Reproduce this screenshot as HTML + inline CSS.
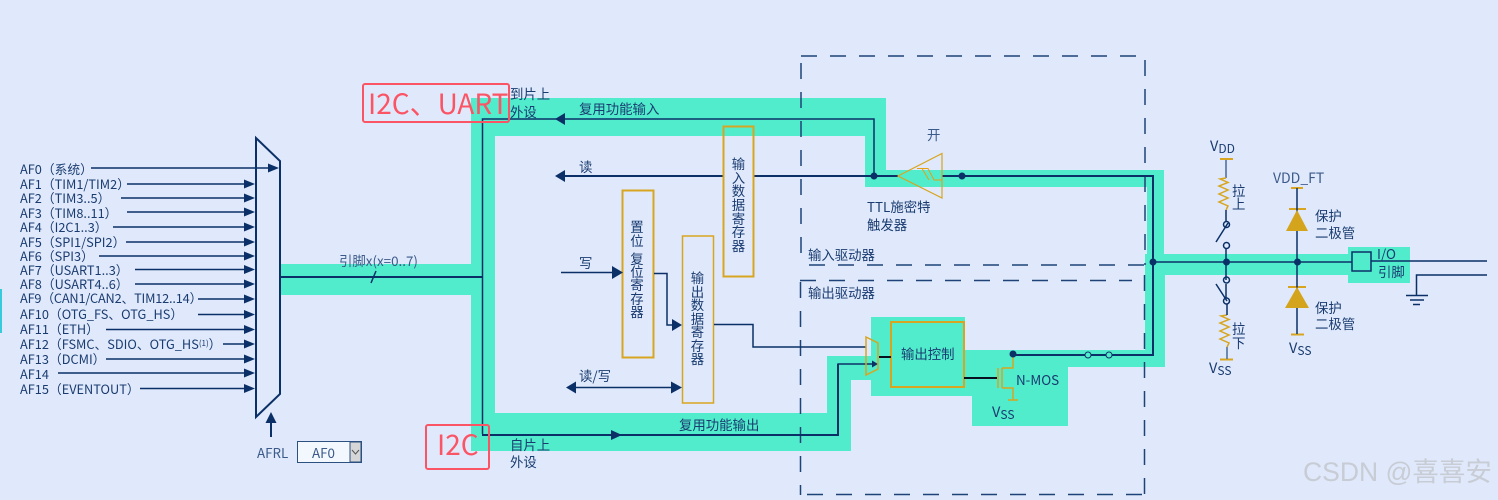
<!DOCTYPE html>
<html><head><meta charset="utf-8">
<style>
html,body{margin:0;padding:0;background:#dfe9fb;width:1498px;height:500px;overflow:hidden}
svg{display:block}
text{font-family:"Noto Sans CJK SC","Liberation Sans",sans-serif;font-size:13.4px;fill:#1a3b70;transform:translateY(.8px)}
text.af{font-size:12.75px}
text.v{font-size:14.5px}
.v tspan{font-size:12px}
.l{stroke:#0b3068;fill:none;stroke-width:1.5}
.t{stroke:#0b3068;fill:none;stroke-width:2}
.a{fill:#0b3068;stroke:none}
.g{stroke:#d8a520;fill:none;stroke-width:1.5}
.d{stroke:#1f4278;fill:none;stroke-width:1.5;stroke-dasharray:16 13}
.r{stroke:#d8a520;fill:none;stroke-width:2}
text.red{font-family:"Noto Sans CJK SC","Liberation Sans",sans-serif;fill:#fb5465;font-size:28px;font-weight:400;transform:none}
</style></head><body>
<svg width="1498" height="500" viewBox="0 0 1498 500" xmlns="http://www.w3.org/2000/svg">
<rect width="1498" height="500" fill="#dfe9fb"/>
<rect x="0" y="289" width="2" height="44" fill="#37c9dc"/>
<g fill="#50eccc">
<rect x="281" y="264" width="195" height="31"/>
<rect x="471" y="98" width="24" height="353"/>
<rect x="471" y="98" width="415" height="38"/>
<rect x="865" y="98" width="21" height="89"/>
<rect x="865" y="170" width="299" height="17"/>
<rect x="1147" y="170" width="17" height="197"/>
<rect x="1145" y="254" width="20" height="113"/>
<rect x="1145" y="254" width="210" height="21"/>
<rect x="1348" y="247" width="62" height="36"/>
<rect x="471" y="413" width="380" height="38"/>
<rect x="827" y="356" width="24" height="95"/>
<rect x="827" y="356" width="50" height="24"/>
<rect x="871" y="317" width="94" height="79"/>
<rect x="960" y="350" width="108" height="46"/>
<rect x="972" y="350" width="96" height="76"/>
<rect x="1060" y="350" width="105" height="17"/>
</g>
<!-- dashed boxes -->
<path class="d" d="M801 56H1145"/><path class="d" d="M1145 60V265"/><path class="d" d="M801 60V265" stroke-dashoffset="-3"/><path class="d" d="M809 265H1145"/>
<path class="d" d="M800 280.500H1132"/><path class="d" d="M800.500 282V495"/><path class="d" d="M807 494.500H1144"/><path class="d" d="M1144.500 494V270"/>
<!-- mux + AF arrows -->
<path d="M256 138L280 161V394L256 417Z" class="t"/>
<g class="l">
<path d="M91 168H272M127 184H246M121 198H246M127 212H246M113 227H246M126 242H246M99 256H246M135 269.500H246M135 284H246M198 299H246M198 314.500H246M106 329.500H246M223 344H246M106 359H246M58 373H246M140 388.500H246"/>
</g>
<g class="a">
<path d="M268 163.500L279 168L268 172.500Z"/>
<path d="M244 179.500L255 184L244 188.500Z"/><path d="M244 193.500L255 198L244 202.500Z"/><path d="M244 207.500L255 212L244 216.500Z"/><path d="M244 222.500L255 227L244 231.500Z"/><path d="M244 237.500L255 242L244 246.500Z"/><path d="M244 251.500L255 256L244 260.500Z"/><path d="M244 265L255 269.500L244 274Z"/><path d="M244 279.500L255 284L244 288.500Z"/><path d="M244 294.500L255 299L244 303.500Z"/><path d="M244 310L255 314.500L244 319Z"/><path d="M244 325L255 329.500L244 334Z"/><path d="M244 339.500L255 344L244 348.500Z"/><path d="M244 354.500L255 359L244 363.500Z"/><path d="M244 368.500L255 373L244 377.500Z"/><path d="M244 384L255 388.500L244 393Z"/>
</g>
<text class="af" x="20" y="173">AF0（系统）</text>
<text class="af" x="20" y="188">AF1（TIM1/TIM2）</text>
<text class="af" x="20" y="202">AF2（TIM3..5）</text>
<text class="af" x="20" y="217">AF3（TIM8..11）</text>
<text class="af" x="20" y="231">AF4（I2C1..3）</text>
<text class="af" x="20" y="246">AF5（SPI1/SPI2）</text>
<text class="af" x="20" y="260">AF6（SPI3）</text>
<text class="af" x="20" y="274">AF7（USART1..3）</text>
<text class="af" x="20" y="288">AF8（USART4..6）</text>
<text class="af" x="20" y="302" style="letter-spacing:-.18px">AF9（CAN1/CAN2、TIM12..14）</text>
<text class="af" x="20" y="318">AF10（OTG_FS、OTG_HS）</text>
<text class="af" x="20" y="333">AF11（ETH）</text>
<text class="af" x="20" y="348">AF12（FSMC、SDIO、OTG_HS<tspan style="font-size:8px" dy="-3">(1)</tspan><tspan dy="3">）</tspan></text>
<text class="af" x="20" y="363">AF13（DCMI）</text>
<text class="af" x="20" y="378">AF14</text>
<text class="af" x="20" y="393">AF15（EVENTOUT）</text>
<path class="t" d="M271 437V420"/><path class="a" d="M271 412L276.500 423H265.500Z"/>
<text x="257" y="457" style="fill:#3b5a8a">AFRL</text>
<rect x="297.500" y="441.500" width="64" height="21" fill="#f3f8fe" stroke="#2c5080"/>
<rect x="350" y="442" width="11" height="20" fill="#d6d6d6" stroke="#2c5080"/>
<path d="M352 450L355.500 454L359 450" stroke="#555" fill="none"/>
<text x="312" y="457" style="fill:#3b5a8a">AF0</text>
<!-- main bus -->
<path class="t" d="M280 277H483"/>
<path class="l" d="M371 283L376 271"/>
<text x="339" y="265" style="fill:#3b5a8a">引脚x(x=0..7)</text>
<path class="l" d="M482.500 434V119H874V176"/>
<path class="a" d="M555 119L565 113V125Z"/>
<path class="t" d="M564 176H723M754 176H898"/>
<path class="a" d="M555 176L565 170V182Z"/>
<path class="t" d="M942 176H1153V355H1060"/>
<path class="l" d="M1153 262H1352"/>
<circle class="a" cx="874" cy="176" r="3.500"/><circle class="a" cx="962" cy="176" r="3.500"/><circle class="a" cx="1153" cy="262" r="3.500"/>
<path class="t" d="M482 435H838V363.500"/>
<path class="l" d="M838 364H872"/>
<path class="a" d="M611 430L622 435L611 440Z"/><path class="a" d="M872 360.500L878 364L872 367.500Z"/>
<!-- registers -->
<rect class="r" x="723.500" y="126.500" width="30" height="150"/>
<rect class="r" x="622.500" y="190.500" width="31" height="167"/>
<rect x="682.500" y="236" width="31" height="167" stroke="#d8a520" fill="none" stroke-width="1.500"/>
<path class="l" d="M561 272.500H614" /><path class="a" d="M612 266L623 272.500L612 279Z"/>
<path class="l" d="M654 273.500H667V325H673"/><path class="a" d="M672 319L682 325L672 331Z"/>
<path class="l" d="M572 387.500H674"/><path class="a" d="M566 387.500L576 381.500V393.500Z"/><path class="a" d="M671 381.500L682 387.500L671 393.500Z"/>
<path class="l" d="M714 324.500H753V347H866"/>
<text text-anchor="middle"><tspan x="738.500" y="168">输</tspan><tspan x="738.500" y="182">入</tspan><tspan x="738.500" y="195">数</tspan><tspan x="738.500" y="209">据</tspan><tspan x="738.500" y="223">寄</tspan><tspan x="738.500" y="236">存</tspan><tspan x="738.500" y="250">器</tspan></text>
<text text-anchor="middle"><tspan x="637" y="231">置</tspan><tspan x="637" y="245">位</tspan><tspan x="637" y="263">复</tspan><tspan x="637" y="276">位</tspan><tspan x="637" y="289">寄</tspan><tspan x="637" y="303">存</tspan><tspan x="637" y="316">器</tspan></text>
<text text-anchor="middle"><tspan x="697.500" y="282">输</tspan><tspan x="697.500" y="296">出</tspan><tspan x="697.500" y="309">数</tspan><tspan x="697.500" y="323">据</tspan><tspan x="697.500" y="336">寄</tspan><tspan x="697.500" y="350">存</tspan><tspan x="697.500" y="363">器</tspan></text>
<!-- labels -->
<text x="510" y="98">到片上</text><text x="510" y="116">外设</text>
<text x="579" y="113">复用功能输入</text>
<text x="579" y="171">读</text><text x="579" y="267">写</text><text x="579" y="380">读/写</text>
<text x="679" y="429">复用功能输出</text>
<text x="510" y="449">自片上</text><text x="510" y="466">外设</text>
<text x="927" y="139" style="fill:#3b5a8a">开</text>
<text x="867" y="211">TTL施密特</text><text x="867" y="229">触发器</text>
<text x="808" y="259">输入驱动器</text><text x="808" y="297">输出驱动器</text>
<!-- schmitt -->
<path class="g" style="stroke-width:1.200" d="M898 176L942 153.500V198Z"/>
<path d="M917 168.500H928L934 180H942M922 168.500L929 180" style="stroke:#e8a010;fill:none;stroke-width:1"/>
<!-- output -->
<path class="g" d="M866 337L878 343V369L866 375Z"/>
<rect class="r" x="891" y="322" width="73" height="65"/>
<path d="M879 357H891M964 378H997" stroke="#06101f" stroke-width="2"/>
<text x="901" y="358">输出控制</text>
<path class="g" d="M998 368V388M1002 368V388M1002 368H1013V356M1002 388H1013V400M1008 400H1018"/>
<circle class="a" cx="1013" cy="354" r="3.500"/>
<path class="t" d="M1013 355H1076"/>
<path d="M1076 355H1122" stroke="#0b3068" stroke-width="1"/>
<circle cx="1088" cy="355" r="3" fill="#50eccc" stroke="#0b3068"/><circle cx="1109" cy="355" r="3" fill="#50eccc" stroke="#0b3068"/>
<text x="1016" y="384">N-MOS</text>
<text class="v" x="992" y="416">V<tspan dy="2">SS</tspan></text>
<!-- pull up/down -->
<path stroke="#d8a520" stroke-width="2" d="M1220 159H1233M1220 359.500H1233M1291 188H1303M1289 209H1306M1288 287H1306M1291 334.500H1304"/>
<path class="l" style="stroke:#4a6a98" d="M1226 160V178M1227 347V359"/>
<path class="g" d="M1226 178L1220 179L1228 182.500L1219 186L1228 190L1219 194L1228 198L1219 202L1228 206L1226 210"/>
<path class="g" d="M1227 315L1221 316L1229 319.500L1220 323L1229 327L1220 331L1229 335L1220 339L1229 343L1227 347"/>
<path class="l" d="M1226 210V221M1226 248V280M1226 284V298M1227 304V315M1216 242L1228 223M1216 284L1227 301"/>
<circle cx="1226.500" cy="224.500" r="3" fill="#dfe9fb" class="l"/><circle cx="1226.500" cy="245.500" r="3" fill="#dfe9fb" class="l"/>
<circle cx="1226.500" cy="280" r="3" fill="#dfe9fb" class="l"/><circle cx="1226.500" cy="301" r="3" fill="#dfe9fb" class="l"/>
<circle class="a" cx="1226.500" cy="262" r="3.500"/><circle class="a" cx="1297.500" cy="262" r="3.500"/>
<path class="l" d="M1297 188V334"/>
<path fill="#d4a51c" d="M1297 210L1308 231H1286Z"/><path fill="#d4a51c" d="M1297 287L1309 308H1285Z"/>
<rect x="1352" y="252" width="19" height="19" fill="#50eccc" stroke="#0b3068" stroke-width="1.500"/>
<path class="l" d="M1371 261H1487M1487 275H1416.500V295"/>
<path class="l" d="M1406 295.500H1428M1410 300H1424M1413 304.500H1420"/>
<text class="v" x="1210" y="150">V<tspan dy="2">DD</tspan></text>
<text x="1273" y="182" style="fill:#3b5a8a;font-size:14px">VDD_FT</text>
<text x="1232" y="195">拉</text><text x="1232" y="208">上</text>
<text x="1232" y="333">拉</text><text x="1232" y="347">下</text>
<text x="1315" y="220">保护</text><text x="1315" y="237">二极管</text>
<text x="1315" y="312">保护</text><text x="1315" y="328">二极管</text>
<text class="v" x="1289" y="352">V<tspan dy="2">SS</tspan></text>
<text class="v" x="1209" y="372">V<tspan dy="2">SS</tspan></text>
<text x="1377" y="258">I/O</text><text x="1378" y="276">引脚</text>
<!-- red annotations -->
<rect x="363" y="84" width="146" height="38" rx="2" fill="none" stroke="#fb5465" stroke-width="2"/>
<text class="red" x="368" y="114">I2C、UART</text>
<rect x="426" y="425" width="63" height="44" rx="2" fill="none" stroke="#fb5465" stroke-width="2"/>
<text class="red" x="437" y="455">I2C</text>
<!-- watermark -->
<text x="1303" y="481" style="font-size:26.500px;fill:#c8ccd4;font-family:'Liberation Sans','Noto Sans CJK SC',sans-serif;transform:none">CSDN @喜喜安</text>
</svg>
</body></html>
